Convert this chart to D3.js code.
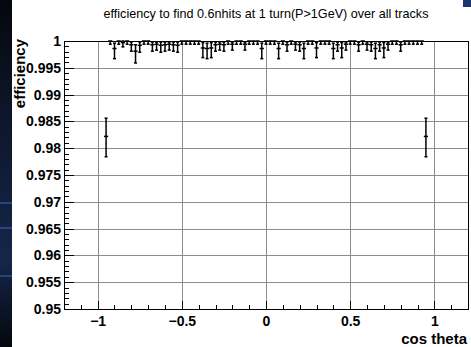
<!DOCTYPE html>
<html><head><meta charset="utf-8">
<script src="https://cdn.jsdelivr.net/npm/d3@7"></script>
<style>html,body{margin:0;padding:0;background:#fff;}svg{display:block;}</style>
</head><body>
<script>
const titleText = "efficiency to find 0.6nhits at 1 turn(P>1GeV) over all tracks";
const xTitle = "cos theta";
const yTitle = "efficiency";
const xTicks = [-1, -0.5, 0, 0.5, 1];
const xTickLabels = ["\u22121", "\u22120.5", "0", "0.5", "1"];
const yTicks = [0.95, 0.955, 0.96, 0.965, 0.97, 0.975, 0.98, 0.985, 0.99, 0.995, 1];
const yTickLabels = ["0.95", "0.955", "0.96", "0.965", "0.97", "0.975", "0.98", "0.985", "0.99", "0.995", "1"];
const binHalfWidth = 0.0125;

const xValues = [-0.95,
 -0.925, -0.9, -0.875, -0.85, -0.825, -0.8, -0.775, -0.75, -0.725, -0.7,
 -0.675, -0.65, -0.625, -0.6, -0.575, -0.55, -0.525, -0.5, -0.475, -0.45,
 -0.425, -0.4, -0.375, -0.35, -0.325, -0.3, -0.275, -0.25, -0.225, -0.2,
 -0.175, -0.15, -0.125, -0.1, -0.075, -0.05, -0.025, 0, 0.025, 0.05,
 0.075, 0.1, 0.125, 0.15, 0.175, 0.2, 0.225, 0.25, 0.275, 0.3,
 0.325, 0.35, 0.375, 0.4, 0.425, 0.45, 0.475, 0.5, 0.525, 0.55,
 0.575, 0.6, 0.625, 0.65, 0.675, 0.7, 0.725, 0.75, 0.775, 0.8,
 0.825, 0.85, 0.875, 0.9, 0.925,
 0.95];
const effValues = [0.9822,
 1, 0.9986, 1, 0.9997, 1, 0.9993, 0.9981, 0.9992, 1, 1,
 0.9993, 0.9994, 0.9992, 0.9993, 0.9994, 0.9993, 0.9992, 1, 1, 1,
 1, 1, 0.9987, 0.9986, 0.9987, 0.9993, 0.9994, 0.9993, 1, 0.9994,
 1, 1, 0.9994, 1, 1, 1, 0.9986, 1, 1, 1,
 0.9986, 1, 0.9993, 1, 0.9994, 0.9993, 0.9986, 1, 1, 0.9987,
 1, 1, 1, 0.9986, 0.9993, 0.9987, 0.9994, 1, 1, 0.9993,
 1, 0.9994, 0.9993, 0.9986, 0.9993, 0.9987, 0.9994, 1, 1, 0.9993,
 1, 1, 1, 1, 1,
 0.9822];
const errLow = [0.0038,
 0.0006, 0.0019, 0.0006, 0.0008, 0.0006, 0.0012, 0.0022, 0.0013, 0.0006, 0.0006,
 0.0012, 0.0011, 0.0013, 0.0012, 0.0011, 0.0012, 0.0013, 0.0006, 0.0006, 0.0006,
 0.0006, 0.0006, 0.0018, 0.0019, 0.0018, 0.0012, 0.0011, 0.0012, 0.0006, 0.0011,
 0.0006, 0.0006, 0.0011, 0.0006, 0.0006, 0.0006, 0.0019, 0.0006, 0.0006, 0.0006,
 0.0019, 0.0006, 0.0012, 0.0006, 0.0011, 0.0012, 0.0019, 0.0006, 0.0006, 0.0018,
 0.0006, 0.0006, 0.0006, 0.0019, 0.0012, 0.0018, 0.0011, 0.0006, 0.0006, 0.0012,
 0.0006, 0.0011, 0.0012, 0.0019, 0.0012, 0.0018, 0.0011, 0.0006, 0.0006, 0.0012,
 0.0006, 0.0006, 0.0006, 0.0006, 0.0006,
 0.0038];
const errHigh = [0.0034,
 0, 0.0010, 0, 0.0003, 0, 0.0005, 0.0012, 0.0006, 0, 0,
 0.0005, 0.0004, 0.0006, 0.0005, 0.0004, 0.0005, 0.0006, 0, 0, 0,
 0, 0, 0.0010, 0.0010, 0.0010, 0.0005, 0.0004, 0.0005, 0, 0.0004,
 0, 0, 0.0004, 0, 0, 0, 0.0010, 0, 0, 0,
 0.0010, 0, 0.0005, 0, 0.0004, 0.0005, 0.0010, 0, 0, 0.0010,
 0, 0, 0, 0.0010, 0.0005, 0.0010, 0.0004, 0, 0, 0.0005,
 0, 0.0004, 0.0005, 0.0010, 0.0005, 0.0010, 0.0004, 0, 0, 0.0005,
 0, 0, 0, 0, 0,
 0.0034];

const W = 471, H = 347;
const svg = d3.select("body").append("svg").attr("width", W).attr("height", H);
svg.append("rect").attr("width", W).attr("height", H).attr("fill", "#fff");

// dark desktop strip on the left edge
const defs = svg.append("defs");
const grad = defs.append("linearGradient").attr("id", "strip").attr("x1", 0).attr("y1", 0).attr("x2", 0).attr("y2", 1);
grad.append("stop").attr("offset", "0").attr("stop-color", "#05070c");
grad.append("stop").attr("offset", "0.3").attr("stop-color", "#0c1528");
grad.append("stop").attr("offset", "0.75").attr("stop-color", "#15264a");
grad.append("stop").attr("offset", "1").attr("stop-color", "#05070c");
svg.append("rect").attr("x", 0).attr("y", 0).attr("width", 12).attr("height", H).attr("fill", "url(#strip)");
[202, 227, 275].forEach(yy => svg.append("rect").attr("x", 0).attr("y", yy).attr("width", 12).attr("height", 2).attr("fill", "#2c4f8f").attr("opacity", 0.8));
svg.append("rect").attr("x", 463).attr("y", 0).attr("width", 8).attr("height", 7).attr("fill", "#1b3570");

const x = d3.scaleLinear().domain([-1.2, 1.2]).range([64, 468]);
const y = d3.scaleLinear().domain([0.95, 1]).range([309, 41]);
const X0 = x.range()[0], X1 = x.range()[1], Y0 = y.range()[0], Y1 = y.range()[1];
const cr = v => Math.round(v) + 0.5;

// grid
const grid = svg.append("g").attr("stroke", "#8c8c8c").attr("stroke-width", 1);
xTicks.forEach(t => grid.append("line").attr("x1", cr(x(t))).attr("x2", cr(x(t))).attr("y1", Y1).attr("y2", Y0));
yTicks.forEach(t => grid.append("line").attr("y1", cr(y(t))).attr("y2", cr(y(t))).attr("x1", X0).attr("x2", X1));

// minor ticks
const yMinor = d3.range(0, 51).map(i => 0.95 + i * 0.001);
const xMinor = d3.range(-12, 13).map(i => i * 0.1);
const ax = svg.append("g").attr("stroke", "#000").attr("stroke-width", 1);
yMinor.forEach(t => ax.append("line").attr("x1", X0).attr("x2", X0 + 5).attr("y1", cr(y(t))).attr("y2", cr(y(t))));
yTicks.forEach(t => ax.append("line").attr("x1", X0).attr("x2", X0 + 10).attr("y1", cr(y(t))).attr("y2", cr(y(t))));
xMinor.forEach(t => ax.append("line").attr("y1", Y0).attr("y2", Y0 - 4).attr("x1", cr(x(t))).attr("x2", cr(x(t))));
xTicks.forEach(t => ax.append("line").attr("y1", Y0).attr("y2", Y0 - 8).attr("x1", cr(x(t))).attr("x2", cr(x(t))));

// frame
svg.append("rect").attr("x", cr(X0)).attr("y", cr(Y1)).attr("width", Math.round(X1 - X0)).attr("height", Math.round(Y0 - Y1))
  .attr("fill", "none").attr("stroke", "#000").attr("stroke-width", 1);

// axes labels via d3 axes
const font = "'Liberation Sans', Arial, Helvetica, sans-serif";
const yAxis = d3.axisLeft(y).tickValues(yTicks).tickFormat((d, i) => yTickLabels[i]).tickSize(0).tickPadding(3);
const gy = svg.append("g").attr("transform", `translate(${X0},0)`).call(yAxis);
gy.select(".domain").remove();
gy.selectAll("text").attr("font-family", font).attr("font-weight", "bold").attr("font-size", 14).attr("fill", "#000");
const xAxis = d3.axisBottom(x).tickValues(xTicks).tickFormat((d, i) => xTickLabels[i]).tickSize(0).tickPadding(7);
const gx = svg.append("g").attr("transform", `translate(0,${Y0})`).call(xAxis);
gx.select(".domain").remove();
gx.selectAll("text").attr("font-family", font).attr("font-weight", "bold").attr("font-size", 14).attr("fill", "#000");

// titles
svg.append("text").attr("x", 266).attr("y", 18).attr("text-anchor", "middle")
  .attr("font-family", font).attr("font-size", 12.6).attr("fill", "#000").text(titleText);
svg.append("text").attr("x", 467).attr("y", 344).attr("text-anchor", "end")
  .attr("font-family", font).attr("font-weight", "bold").attr("font-size", 15).attr("fill", "#000").text(xTitle);
svg.append("text").attr("transform", `translate(25,39) rotate(-90)`).attr("text-anchor", "end")
  .attr("font-family", font).attr("font-weight", "bold").attr("font-size", 15).attr("fill", "#000").text(yTitle);

// error bars
const pts = xValues.map((xv, i) => ({x: xv, v: effValues[i], lo: errLow[i], hi: errHigh[i]}));
const eb = svg.append("g").attr("stroke", "#000").attr("stroke-width", 1.5).attr("fill", "none");
pts.forEach(p => {
  const px = x(p.x), py = y(p.v);
  eb.append("line").attr("x1", px).attr("x2", px).attr("y1", y(p.v - p.lo)).attr("y2", y(p.v + p.hi));
  eb.append("line").attr("x1", x(p.x - binHalfWidth)).attr("x2", x(p.x + binHalfWidth)).attr("y1", py).attr("y2", py);
  if (p.lo > 0) eb.append("line").attr("x1", px - 1.5).attr("x2", px + 1.5).attr("y1", y(p.v - p.lo)).attr("y2", y(p.v - p.lo));
  if (p.hi > 0) eb.append("line").attr("x1", px - 1.5).attr("x2", px + 1.5).attr("y1", y(p.v + p.hi)).attr("y2", y(p.v + p.hi));
});
</script>
</body></html>
